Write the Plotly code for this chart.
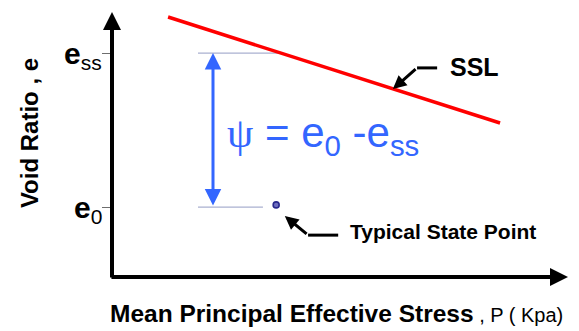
import plotly.graph_objects as go
import numpy as np

# schematic state-parameter diagram (arbitrary units: p 0..10, e 0..1)
ssl_p = [1.23, 8.51]
ssl_e = [0.981, 0.581]
e_ss = 0.845
e_0 = 0.264
state_p = [3.60]
state_e = [0.272]

tick_vals = [e_ss, e_0]
tick_text = ['<b>e</b><sub>ss</sub>', '<b>e</b><sub>0</sub>']

BLUE = 'rgb(51,102,255)'
GUIDE = 'rgb(170,176,208)'
FONT = 'Liberation Sans'

# where e_ss meets the SSL
p_ss = float(np.interp(e_ss, ssl_e[::-1], ssl_p[::-1]))
guide_start = 1.886
arrow_p = 2.215

fig = go.Figure()

# guide lines for e_ss and e_0
fig.add_trace(go.Scatter(x=[guide_start, p_ss], y=[e_ss, e_ss], mode='lines',
                         line=dict(color=GUIDE, width=1.2), hoverinfo='skip', showlegend=False))
fig.add_trace(go.Scatter(x=[guide_start, state_p[0] - 0.29], y=[e_0, e_0], mode='lines',
                         line=dict(color=GUIDE, width=1.2), hoverinfo='skip', showlegend=False))

# steady state line
fig.add_trace(go.Scatter(x=ssl_p, y=ssl_e, mode='lines',
                         line=dict(color='red', width=3.5), hoverinfo='skip', showlegend=False))

# state point
fig.add_trace(go.Scatter(x=state_p, y=state_e, mode='markers',
                         marker=dict(size=6, color='rgb(110,110,190)',
                                     line=dict(color='rgb(40,40,140)', width=1.6)),
                         hoverinfo='skip', showlegend=False))

# elbows of the pointer arrows
fig.add_trace(go.Scatter(x=[7.13, 6.69], y=[0.789, 0.789], mode='lines',
                         line=dict(color='black', width=3), hoverinfo='skip', showlegend=False))
fig.add_trace(go.Scatter(x=[4.96, 4.30], y=[0.158, 0.158], mode='lines',
                         line=dict(color='black', width=3), hoverinfo='skip', showlegend=False))


def arrow(x, y, ax, ay, width, size, color='black', **kw):
    fig.add_annotation(x=x, y=y, ax=ax, ay=ay, xref='x', yref='y', axref='x', ayref='y',
                       text='', showarrow=True, arrowhead=2, arrowsize=size,
                       arrowwidth=width, arrowcolor=color, **kw)


# axes with arrowheads
arrow(0, 1.0, 0, -0.008, 4, 0.9)
arrow(10, 0, -0.045, 0, 4, 0.9)

# pointers
arrow(6.16, 0.709, 6.69, 0.789, 3, 0.9)
arrow(3.79, 0.230, 4.30, 0.158, 3, 0.9)

# psi double arrow
arrow(arrow_p, e_ss, arrow_p, e_0, 3, 1.1, color=BLUE,
      arrowside='end+start', startarrowhead=2, startarrowsize=1.1)

# labels
fig.add_annotation(x=7.37, y=0.792, xref='x', yref='y', text='<b>SSL</b>', showarrow=False,
                   xanchor='left', yanchor='middle', font=dict(family=FONT, size=25, color='black'))
fig.add_annotation(x=5.17, y=0.172, xref='x', yref='y', text='<b>Typical State Point</b>',
                   showarrow=False, xanchor='left', yanchor='middle',
                   font=dict(family=FONT, size=21, color='black'))
fig.add_annotation(x=2.47, y=0.535, xref='x', yref='y',
                   text="<span style='font-family:Liberation Serif'>ψ</span> = e<sub>0</sub> -e<sub>ss</sub>",
                   showarrow=False, xanchor='left', yanchor='middle',
                   font=dict(family=FONT, size=42, color=BLUE))

for v, t in zip(tick_vals, tick_text):
    fig.add_annotation(x=-0.018, y=v - 0.008, xref='paper', yref='y', text=t, showarrow=False,
                       xanchor='right', yanchor='middle',
                       font=dict(family=FONT, size=30, color='black'))

fig.add_annotation(x=-0.009, y=-0.136, xref='paper', yref='paper',
                   text="<b>Mean Principal Effective Stress</b><span style='font-size:20px'> , P ( Kpa)</span>",
                   showarrow=False, xanchor='left', yanchor='middle',
                   font=dict(family=FONT, size=24.5, color='black'))
fig.add_annotation(x=-0.182, y=0.543, xref='paper', yref='paper', text='<b>Void Ratio , e</b>',
                   textangle=-90, showarrow=False, xanchor='center', yanchor='middle',
                   font=dict(family=FONT, size=24, color='black'))

# the page body adds an 8px margin, so the figure is 8px smaller and shifted back
fig.update_layout(
    width=571,
    height=323,
    margin=dict(l=104, r=11, t=4, b=54),
    plot_bgcolor='white',
    paper_bgcolor='white',
    xaxis=dict(range=[0, 10], visible=False, fixedrange=True),
    yaxis=dict(range=[0, 1], showgrid=False, zeroline=False, showline=False,
               tickvals=tick_vals, ticktext=['', ''], ticks='outside', ticklen=9,
               tickcolor='rgb(110,110,110)', tickwidth=1, fixedrange=True),
    showlegend=False,
)

fig.write_html("out.html")
